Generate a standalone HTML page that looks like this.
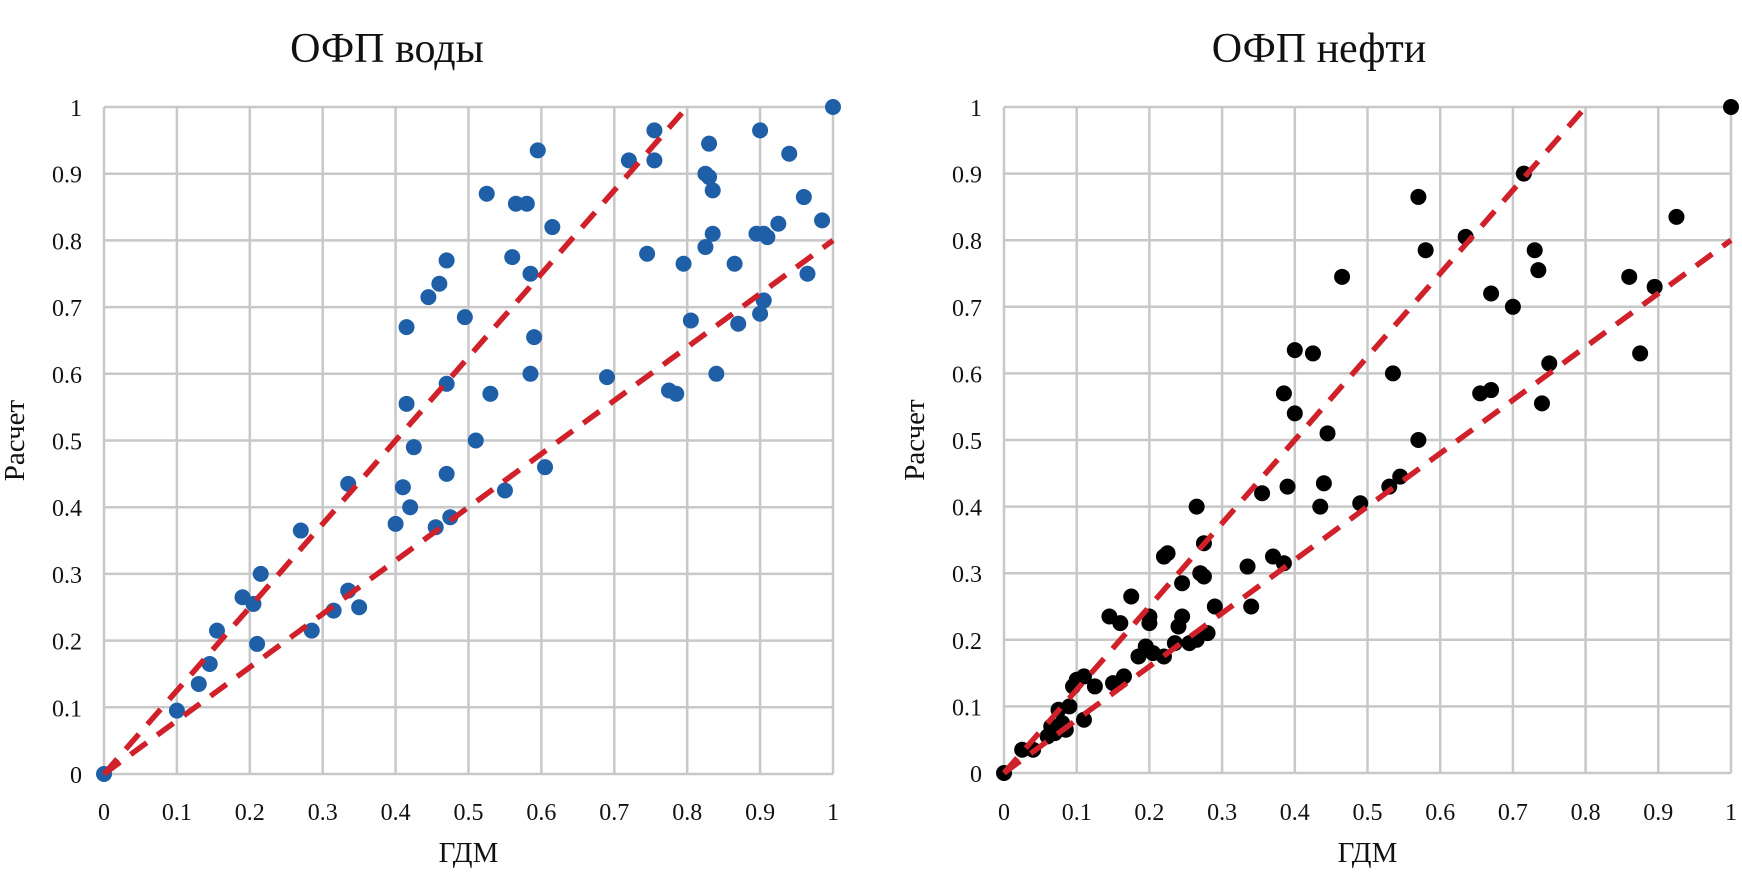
<!DOCTYPE html>
<html><head><meta charset="utf-8"><style>
body{margin:0;background:#fff;}
svg{display:block;font-family:"Liberation Serif",serif;}
</style></head><body>
<svg id="s" width="1742" height="874"></svg>
<script>
const waterX=[0,0.1,0.13,0.145,0.155,0.19,0.205,0.21,0.215,0.27,0.285,0.315,0.335,0.335,0.35,0.4,0.41,0.415,0.415,0.42,0.425,0.445,0.455,0.46,0.47,0.47,0.47,0.475,0.495,0.51,0.525,0.53,0.55,0.56,0.565,0.58,0.585,0.585,0.59,0.595,0.605,0.615,0.69,0.72,0.745,0.755,0.755,0.775,0.785,0.795,0.805,0.825,0.825,0.83,0.83,0.835,0.835,0.84,0.865,0.87,0.895,0.9,0.9,0.905,0.905,0.91,0.925,0.94,0.96,0.965,0.985,1];
const waterY=[0,0.095,0.135,0.165,0.215,0.265,0.255,0.195,0.3,0.365,0.215,0.245,0.275,0.435,0.25,0.375,0.43,0.555,0.67,0.4,0.49,0.715,0.37,0.735,0.77,0.585,0.45,0.385,0.685,0.5,0.87,0.57,0.425,0.775,0.855,0.855,0.75,0.6,0.655,0.935,0.46,0.82,0.595,0.92,0.78,0.965,0.92,0.575,0.57,0.765,0.68,0.9,0.79,0.945,0.895,0.81,0.875,0.6,0.765,0.675,0.81,0.965,0.69,0.71,0.81,0.805,0.825,0.93,0.865,0.75,0.83,1];
const oilX=[0,0.025,0.04,0.06,0.065,0.07,0.075,0.08,0.085,0.09,0.095,0.1,0.11,0.11,0.125,0.145,0.15,0.16,0.165,0.175,0.185,0.195,0.2,0.2,0.205,0.22,0.22,0.225,0.235,0.24,0.245,0.245,0.255,0.265,0.265,0.27,0.275,0.275,0.28,0.29,0.335,0.34,0.355,0.37,0.385,0.385,0.39,0.4,0.4,0.425,0.435,0.44,0.445,0.465,0.49,0.53,0.535,0.545,0.57,0.57,0.58,0.635,0.655,0.67,0.67,0.7,0.715,0.73,0.735,0.74,0.75,0.86,0.875,0.895,0.925,1];
const oilY=[0,0.035,0.035,0.055,0.07,0.06,0.095,0.075,0.065,0.1,0.13,0.14,0.145,0.08,0.13,0.235,0.135,0.225,0.145,0.265,0.175,0.19,0.225,0.235,0.18,0.175,0.325,0.33,0.195,0.22,0.235,0.285,0.195,0.4,0.2,0.3,0.345,0.295,0.21,0.25,0.31,0.25,0.42,0.325,0.57,0.315,0.43,0.635,0.54,0.63,0.4,0.435,0.51,0.745,0.405,0.43,0.6,0.445,0.5,0.865,0.785,0.805,0.57,0.575,0.72,0.7,0.9,0.785,0.755,0.555,0.615,0.745,0.63,0.73,0.835,1];
const ticks=[0,0.1,0.2,0.3,0.4,0.5,0.6,0.7,0.8,0.9,1];
const tickLabels=["0","0.1","0.2","0.3","0.4","0.5","0.6","0.7","0.8","0.9","1"];
const upperSlope=1.25, lowerSlope=0.8;
const NS="http://www.w3.org/2000/svg";
const svg=document.getElementById('s');
function mk(tag,attrs,parent,text){const e=document.createElementNS(NS,tag);for(const k in attrs)e.setAttribute(k,attrs[k]);if(text!==undefined)e.textContent=text;(parent||svg).appendChild(e);return e;}
function chart(key,title,titleX,x0,x1,y0,y1,xs,ys,color){
  const g=mk('g',{});
  
  
  const sx=v=>x0+v*(x1-x0), sy=v=>y0+v*(y1-y0);
  const t=mk('text',{x:titleX,y:62,'font-size':42,'text-anchor':'middle',fill:'#111'},g,title);
  
  
  ticks.forEach((v,i)=>{
    const gv=mk('line',{x1:sx(v),x2:sx(v),y1:sy(0),y2:sy(1),stroke:'#c8c8c8','stroke-width':2.5},g);
    
    
    const gh=mk('line',{x1:sx(0),x2:sx(1),y1:sy(v),y2:sy(v),stroke:'#c8c8c8','stroke-width':2.5},g);
    
    
    const tx=mk('text',{x:sx(v),y:820,'font-size':24,'text-anchor':'middle',fill:'#111'},g,tickLabels[i]);
    
    
    const ty=mk('text',{x:x0-22,y:sy(v)+9,'font-size':24,'text-anchor':'end',fill:'#111'},g,tickLabels[i]);
    
    
  });
  const xt=mk('text',{x:(x0+x1)/2,y:862,'font-size':29,'text-anchor':'middle',fill:'#111'},g,'ГДМ');
  
  
  const yx=x0-80, yy=(y0+y1)/2;
  const yt=mk('text',{x:yx,y:yy,'font-size':29,'text-anchor':'middle',fill:'#111',transform:`rotate(-90 ${yx} ${yy})`},g,'Расчет');
  
  
  xs.forEach((v,i)=>{
    const c=mk('circle',{cx:sx(v),cy:sy(ys[i]),r:8,fill:color},g);
    
    
  });
  const l1=mk('line',{x1:sx(0),y1:sy(0),x2:sx(1/upperSlope),y2:sy(1),stroke:'#d0202a','stroke-width':5.5,'stroke-dasharray':'20 13'},g);
  
  
  const l2=mk('line',{x1:sx(0),y1:sy(0),x2:sx(1),y2:sy(lowerSlope),stroke:'#d0202a','stroke-width':5.5,'stroke-dasharray':'20 13'},g);
  
  
}
chart('water','ОФП воды',387,104,833,774,107,waterX,waterY,'#1f5fa8');
chart('oil','ОФП нефти',1319,1004,1731,773,107,oilX,oilY,'#000');
</script>
</body></html>
